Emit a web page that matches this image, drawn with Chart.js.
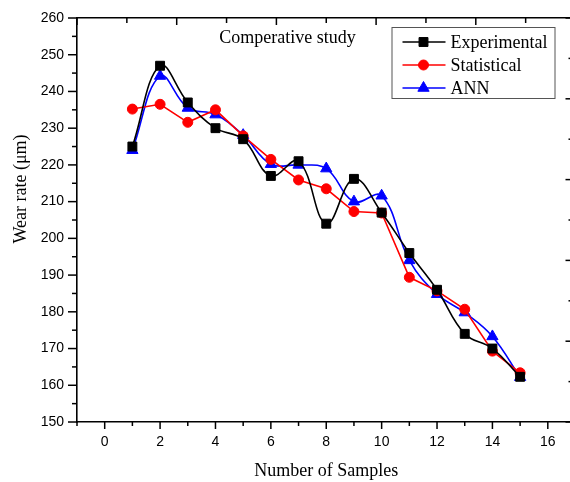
<!DOCTYPE html>
<html>
<head>
<meta charset="utf-8">
<script src="https://cdn.jsdelivr.net/npm/chart.js@4/dist/chart.umd.min.js"></script>
<style>
  html, body { margin: 0; padding: 0; background: #fff; overflow: hidden; }
  #wrap { width: 583px; height: 482px; }
</style>
</head>
<body>
<div id="wrap"><canvas id="chart" width="583" height="482"></canvas></div>
<script>
const samples = [1, 2, 3, 4, 5, 6, 7, 8, 9, 10, 11, 12, 13, 14, 15];
const experimental = [225, 247, 237, 230, 227, 217, 221, 204, 216.2, 207, 196, 186, 174, 170, 162.3];
const statistical = [235.2, 236.5, 231.6, 235, 227.9, 221.5, 215.9, 213.5, 207.3, 206.9, 189.4, 185.7, 180.7, 169.3, 163.4];
const ann = [224, 244.2, 235.5, 233.7, 228.1, 220.2, 220, 219, 210, 211.6, 194, 184.8, 179.8, 173.3, 162.2];

const serif = '"Liberation Serif", "Times New Roman", serif';
const sans = '"Liberation Sans", Arial, sans-serif';

function pts(values) {
  return samples.map((s, i) => ({ x: s, y: values[i] }));
}

// tick marks: major longer, minor shorter, drawn from each scale
const tickMarks = {
  id: 'tickMarks',
  afterDraw(chart) {
    const ctx = chart.ctx;
    ctx.save();
    ctx.strokeStyle = '#000';
    ctx.lineWidth = 1.5;
    const defs = [
      { id: 'x', major: 2, dir: 1, horiz: true, big: 7, small: 4 },
      { id: 'x2', major: 2, dir: 1, horiz: true, big: 7, small: 5 },
      { id: 'y', major: 10, dir: -1, horiz: false, big: 9, small: 5 },
      { id: 'y2', major: 2, dir: -1, horiz: false, big: 10, small: 7 }
    ];
    defs.forEach(d => {
      const s = chart.scales[d.id];
      const base = d.horiz ? (d.id === 'x' ? s.top : s.bottom) : (d.id === 'y' ? s.right : s.left);
      s.ticks.forEach(t => {
        const len = t.value % d.major === 0 ? d.big : d.small;
        const p = s.getPixelForValue(t.value);
        ctx.beginPath();
        if (d.horiz) { ctx.moveTo(p, base); ctx.lineTo(p, base + d.dir * len); }
        else { ctx.moveTo(base, p); ctx.lineTo(base + d.dir * len, p); }
        ctx.stroke();
      });
    });
    ctx.restore();
  }
};

// title inside plot, y axis title, boxed legend
const annotations = {
  id: 'annotations',
  afterDraw(chart) {
    const { ctx, chartArea } = chart;
    const xs = chart.scales.x, ys = chart.scales.y;
    ctx.save();
    ctx.fillStyle = '#000';
    ctx.font = '18px ' + serif;
    ctx.textAlign = 'center';
    ctx.textBaseline = 'middle';
    ctx.fillText('Comperative study', xs.getPixelForValue(6.6), ys.getPixelForValue(254.4));

    ctx.save();
    ctx.translate(21, (chartArea.top + chartArea.bottom) / 2 - 31);
    ctx.rotate(-Math.PI / 2);
    ctx.fillText('Wear rate (\u03bcm)', 0, 0);
    ctx.restore();

    const left = chartArea.right - 184, top = chartArea.top + 9, w = 163, h = 71;
    ctx.strokeStyle = '#555';
    ctx.lineWidth = 1;
    ctx.strokeRect(left + 0.5, top + 0.5, w, h);
    ctx.textAlign = 'left';
    chart.data.datasets.forEach((ds, i) => {
      const y = top + 15 + i * 23;
      ctx.strokeStyle = ds.borderColor;
      ctx.lineWidth = ds.borderWidth;
      ctx.beginPath();
      ctx.moveTo(left + 11, y);
      ctx.lineTo(left + 54, y);
      ctx.stroke();
      ctx.fillStyle = ds.pointBackgroundColor;
      ctx.strokeStyle = ds.pointBorderColor;
      ctx.lineWidth = 1;
      Chart.helpers.drawPoint(ctx, { pointStyle: ds.pointStyle, radius: ds.pointRadius, rotation: 0, borderWidth: 1 }, left + 32, y);
      ctx.fillStyle = '#000';
      ctx.fillText(ds.label, left + 59, y + 1);
    });
    ctx.restore();
  }
};

function series(label, values, color, style, radius, tension) {
  return {
    label: label,
    data: pts(values),
    borderColor: color,
    backgroundColor: color,
    pointBackgroundColor: color,
    pointBorderColor: color,
    pointStyle: style,
    pointRadius: radius,
    pointBorderWidth: 1,
    borderWidth: 1.6,
    tension: tension,
    xAxisID: 'x',
    yAxisID: 'y'
  };
}

new Chart(document.getElementById('chart'), {
  type: 'line',
  data: {
    datasets: [
      series('Experimental', experimental, '#000000', 'rect', 6.3, 0.4),
      series('Statistical', statistical, '#ff0000', 'circle', 5, 0),
      series('ANN', ann, '#0000ff', 'triangle', 6.5, 0.4)
    ]
  },
  plugins: [tickMarks, annotations],
  options: {
    responsive: false,
    animation: false,
    layout: { padding: 0 },
    plugins: { legend: { display: false }, tooltip: { enabled: false } },
    scales: {
      x: {
        type: 'linear', position: 'bottom', min: -1, max: 17,
        afterFit: s => { s.height = 60; },
        grid: { display: false, drawTicks: true, tickLength: 8 },
        border: { display: true, color: '#000', width: 1.6 },
        ticks: {
          stepSize: 1, autoSkip: false, padding: 4, color: '#000',
          font: { family: sans, size: 14 },
          maxRotation: 0,
          callback: v => (v % 2 === 0 ? v : '')
        },
        title: { display: true, text: 'Number of Samples', color: '#000', font: { family: serif, size: 18 }, padding: { top: 0, bottom: 0 } }
      },
      y: {
        type: 'linear', position: 'left', min: 150, max: 260,
        afterFit: s => { s.width = 77; },
        grid: { display: false, drawTicks: true, tickLength: 9 },
        border: { display: true, color: '#000', width: 1.6 },
        ticks: {
          stepSize: 5, autoSkip: false, padding: 4, color: '#000',
          font: { family: sans, size: 14 },
          callback: v => (v % 10 === 0 ? v : '')
        }
      },
      x2: {
        type: 'linear', position: 'top', min: 0, max: 10,
        afterFit: s => { s.height = 18; },
        grid: { display: false, drawTicks: false },
        border: { display: true, color: '#000', width: 1.6 },
        ticks: { stepSize: 1, display: false, padding: 0 }
      },
      y2: {
        type: 'linear', position: 'right', min: 0, max: 10,
        afterFit: s => { s.width = 5; },
        grid: { display: false, drawTicks: false },
        border: { display: true, color: '#000', width: 1.6 },
        ticks: { stepSize: 1, display: false, padding: 0 }
      }
    }
  }
});
</script>
</body>
</html>
